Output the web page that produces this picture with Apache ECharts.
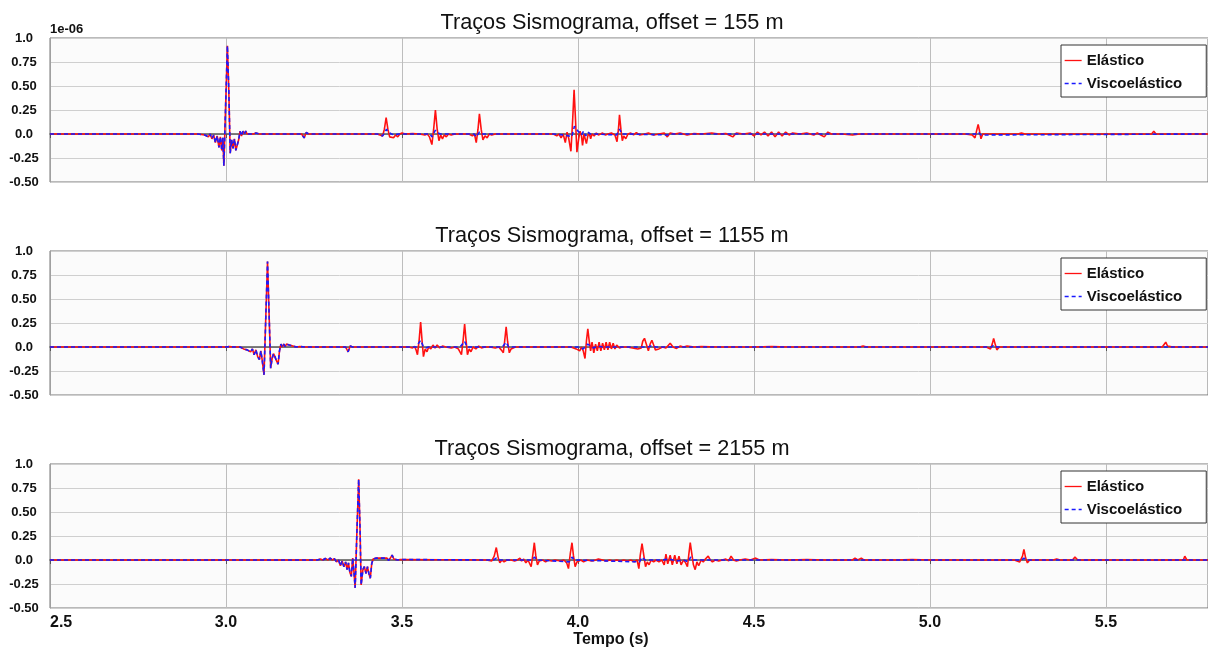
<!DOCTYPE html>
<html>
<head>
<meta charset="utf-8">
<title>Traços Sismograma</title>
<script src="https://cdn.jsdelivr.net/npm/echarts@6/dist/echarts.min.js"></script>
<style>
    html, body { margin: 0; padding: 0; background: #fff; }
    #chart { width: 1208px; height: 651px; }
</style>
</head>
<body>
<div id="chart"></div>
<script>
// valores em 1e-06, pares [tempo (s), amplitude]
var offsets = ['155', '1155', '2155'];
var legendas = ['Elástico', 'Viscoelástico'];
var yTicks = ['-0.50', '-0.25', '0.0', '0.25', '0.50', '0.75', '1.0'];

// onda direta (igual nos dois tracos)
var onda155 = [[2.5,0],[2.92,0],[2.925,0.01],[2.93,-0.005],[2.935,0.015],[2.94,-0.01],[2.945,0.01],[2.95,-0.03],[2.955,0.0],[2.96,-0.05],[2.965,-0.01],[2.97,-0.09],[2.975,-0.02],[2.98,-0.14],[2.984,-0.03],[2.988,-0.17],[2.991,-0.04],[2.994,-0.33],[2.999,0.3],[3.004,0.92],[3.008,0.45],[3.012,-0.2],[3.016,-0.06],[3.02,-0.15],[3.024,-0.05],[3.028,-0.17],[3.032,-0.19],[3.036,-0.06],[3.04,0.03],[3.044,-0.02],[3.048,0.03],[3.052,0.0],[3.056,0.03],[3.06,0.0],[3.064,0.02],[3.068,0.0],[3.072,0.015],[3.078,0.0],[3.085,0.01],[3.095,0.0],[3.215,0],[3.222,-0.04],[3.228,0.015],[3.235,0.0],[3.43,0]];

var elastico155 = onda155.concat([[3.445,-0.02],[3.45,0.05],[3.455,0.17],[3.46,0.05],[3.465,-0.03],[3.47,-0.02],[3.476,-0.04],[3.482,-0.01],[3.488,-0.03],[3.494,0.0],[3.5,0.01],[3.51,0.0],[3.53,0.005],[3.55,0],[3.565,-0.01],[3.572,0.0],[3.578,-0.03],[3.585,-0.11],[3.59,0.05],[3.595,0.25],[3.6,0.05],[3.605,-0.07],[3.61,-0.01],[3.615,-0.05],[3.62,-0.01],[3.626,-0.03],[3.632,0.0],[3.64,-0.01],[3.65,0.0],[3.69,0],[3.7,-0.02],[3.706,0.0],[3.711,-0.09],[3.716,0.05],[3.72,0.21],[3.725,0.05],[3.73,-0.06],[3.736,-0.02],[3.742,-0.04],[3.748,0.0],[3.755,-0.01],[3.765,0.0],[3.93,0],[3.94,-0.02],[3.946,0.0],[3.952,-0.04],[3.958,0.0],[3.964,-0.09],[3.969,0.02],[3.974,-0.05],[3.98,-0.18],[3.985,0.15],[3.989,0.46],[3.993,0.15],[3.997,-0.19],[4.002,-0.05],[4.006,0.03],[4.01,-0.02],[4.013,-0.12],[4.017,0.0],[4.02,0.02],[4.024,-0.1],[4.028,-0.02],[4.032,0.01],[4.036,-0.05],[4.04,0.0],[4.046,-0.02],[4.052,0.01],[4.058,-0.01],[4.064,0.0],[4.07,0.01],[4.078,-0.01],[4.085,0.0],[4.095,0.01],[4.105,-0.01],[4.111,-0.08],[4.115,0.05],[4.118,0.2],[4.122,0.05],[4.126,-0.07],[4.13,-0.02],[4.136,-0.05],[4.142,0.0],[4.15,0.01],[4.158,-0.01],[4.166,0.015],[4.175,-0.01],[4.19,0.0],[4.2,0.01],[4.215,-0.01],[4.23,0.0],[4.245,0.01],[4.254,-0.03],[4.262,0.01],[4.275,0.0],[4.29,0.01],[4.31,-0.01],[4.33,0.005],[4.35,0.0],[4.38,0.01],[4.4,0],[4.42,0.005],[4.44,-0.03],[4.45,0.01],[4.47,0.0],[4.49,0.01],[4.5,-0.02],[4.51,0.02],[4.52,-0.01],[4.53,0.02],[4.54,-0.02],[4.55,0.02],[4.56,-0.03],[4.57,0.02],[4.58,-0.02],[4.59,0.02],[4.6,-0.01],[4.61,0.01],[4.63,0.0],[4.65,0.01],[4.67,-0.01],[4.68,0.01],[4.69,-0.01],[4.7,-0.03],[4.71,0.02],[4.72,0.0],[4.75,0],[4.78,-0.01],[4.8,0],[5.1,0],[5.12,-0.01],[5.128,-0.04],[5.133,0.04],[5.137,0.1],[5.141,0.03],[5.145,-0.05],[5.15,0.0],[5.155,-0.01],[5.165,0.0],[5.25,0.0],[5.26,0.01],[5.27,0],[5.63,0],[5.636,0.03],[5.642,0],[5.79,0]]);

var visco155 = onda155.concat([[3.445,-0.02],[3.452,0.02],[3.456,0.05],[3.462,0.02],[3.47,0.0],[3.48,-0.01],[3.49,0],[3.58,0],[3.585,-0.03],[3.595,0.04],[3.602,0.01],[3.61,0],[3.705,0],[3.711,-0.03],[3.72,0.02],[3.727,0.0],[3.93,0],[3.96,-0.01],[3.975,-0.02],[3.982,-0.03],[3.99,0.08],[3.995,0.1],[4.0,0.03],[4.005,0.05],[4.01,-0.01],[4.016,0.03],[4.022,-0.02],[4.028,0.02],[4.035,0.0],[4.05,0.0],[4.11,-0.01],[4.118,0.05],[4.125,0.0],[4.14,0.0],[4.254,-0.01],[4.26,0],[5.13,0],[5.137,0.02],[5.145,-0.01],[5.15,0],[5.79,0]]);

var onda1155 = [[2.5,0],[3.0,0],[3.01,0.005],[3.015,0.01],[3.02,0.0],[3.025,0.01],[3.03,0.0],[3.035,0.01],[3.04,0.0],[3.045,0.005],[3.05,-0.02],[3.055,0.0],[3.06,-0.03],[3.065,-0.01],[3.07,-0.05],[3.075,-0.02],[3.08,-0.08],[3.085,-0.03],[3.09,-0.1],[3.095,-0.13],[3.099,-0.04],[3.103,-0.14],[3.108,-0.29],[3.113,0.3],[3.118,0.89],[3.122,0.4],[3.127,-0.22],[3.131,-0.12],[3.135,-0.07],[3.139,-0.1],[3.143,-0.14],[3.148,-0.18],[3.152,-0.04],[3.156,0.03],[3.16,0.0],[3.164,0.03],[3.168,0.005],[3.172,0.03],[3.176,0.01],[3.18,0.02],[3.185,0.0],[3.19,0.01],[3.2,0.0],[3.21,0.005],[3.225,0],[3.34,0],[3.347,-0.05],[3.353,0.01],[3.36,0],[3.52,0]];

var elastico1155 = onda1155.concat([[3.53,-0.01],[3.536,0.005],[3.54,-0.03],[3.544,-0.08],[3.549,0.08],[3.553,0.26],[3.557,0.07],[3.561,-0.1],[3.566,-0.02],[3.571,-0.05],[3.576,0.0],[3.582,-0.02],[3.588,0.02],[3.594,-0.01],[3.6,0.02],[3.607,-0.01],[3.615,0.01],[3.625,0.0],[3.64,-0.01],[3.65,0],[3.66,-0.02],[3.669,-0.08],[3.674,0.08],[3.678,0.24],[3.682,0.07],[3.686,-0.08],[3.691,-0.02],[3.696,-0.05],[3.702,0.0],[3.71,-0.02],[3.718,0.01],[3.726,-0.01],[3.735,0.0],[3.75,0.0],[3.765,-0.01],[3.775,0.0],[3.782,-0.03],[3.788,-0.06],[3.792,0.07],[3.796,0.21],[3.8,0.06],[3.805,-0.06],[3.81,-0.02],[3.815,-0.04],[3.822,0.0],[3.83,0.0],[3.85,0],[3.98,0],[3.995,-0.02],[4.0,-0.01],[4.005,-0.04],[4.01,0.0],[4.015,-0.04],[4.02,-0.12],[4.024,0.06],[4.028,0.19],[4.032,0.06],[4.036,-0.04],[4.04,0.05],[4.045,-0.06],[4.05,0.03],[4.055,-0.04],[4.06,0.05],[4.065,-0.04],[4.07,0.04],[4.075,-0.03],[4.08,0.05],[4.085,-0.03],[4.09,0.05],[4.095,-0.02],[4.1,0.04],[4.105,-0.02],[4.11,0.02],[4.118,-0.01],[4.125,0.0],[4.14,0.0],[4.155,-0.01],[4.17,-0.02],[4.18,-0.01],[4.184,0.06],[4.189,0.09],[4.195,0.02],[4.2,-0.04],[4.205,0.03],[4.21,0.07],[4.215,0.02],[4.22,-0.03],[4.23,-0.02],[4.24,0.0],[4.25,-0.01],[4.262,0.04],[4.27,0.0],[4.28,-0.015],[4.29,0.01],[4.3,0.0],[4.31,0.01],[4.33,0.0],[4.35,0.005],[4.4,0],[4.5,0],[4.55,0.005],[4.6,0],[4.8,0],[4.81,0.01],[4.82,0],[5.16,0],[5.172,-0.02],[5.177,0.03],[5.181,0.09],[5.186,0.02],[5.19,-0.03],[5.197,0.0],[5.205,0],[5.66,0],[5.665,0.015],[5.67,0.05],[5.675,0.01],[5.68,-0.01],[5.69,0],[5.79,0]]);

var visco1155 = onda1155.concat([[3.54,0],[3.545,-0.02],[3.553,0.07],[3.56,0.01],[3.567,-0.01],[3.575,0],[3.665,0],[3.67,-0.02],[3.678,0.06],[3.685,0.0],[3.695,0],[3.785,0],[3.79,-0.02],[3.796,0.05],[3.803,0.0],[3.81,0],[4.0,0],[4.015,-0.02],[4.02,-0.04],[4.028,0.03],[4.035,0.01],[4.045,-0.01],[4.055,0.01],[4.07,0],[4.185,0.0],[4.19,0.02],[4.2,0],[4.21,0.015],[4.22,0],[5.175,0],[5.181,0.02],[5.19,0],[5.79,0]]);

var onda2155 = [[2.5,0],[3.26,0],[3.268,0.01],[3.275,0.0],[3.282,0.015],[3.29,0.0],[3.296,0.02],[3.302,0.0],[3.308,0.015],[3.314,-0.02],[3.32,0.0],[3.325,-0.06],[3.33,-0.01],[3.335,-0.07],[3.34,-0.02],[3.344,-0.1],[3.348,-0.03],[3.352,-0.13],[3.356,-0.17],[3.36,0.02],[3.363,-0.1],[3.367,-0.29],[3.372,0.3],[3.377,0.84],[3.381,0.3],[3.384,-0.26],[3.389,-0.1],[3.393,-0.07],[3.398,-0.14],[3.402,-0.07],[3.406,-0.14],[3.41,-0.19],[3.414,-0.04],[3.418,0.01],[3.422,-0.01],[3.427,0.02],[3.432,0.0],[3.437,0.02],[3.442,0.0],[3.447,0.02],[3.452,0.0],[3.457,0.02],[3.462,-0.005],[3.467,0.02],[3.472,0.05],[3.477,0.01],[3.482,-0.01],[3.488,0.0],[3.495,0.005],[3.5,0],[3.74,0]];

var elastico2155 = onda2155.concat([[3.755,-0.01],[3.762,0.04],[3.768,0.13],[3.773,0.03],[3.778,-0.03],[3.784,0.0],[3.79,-0.02],[3.798,0.0],[3.81,0.0],[3.82,-0.01],[3.828,0.0],[3.835,0.02],[3.84,-0.01],[3.846,0.01],[3.852,-0.03],[3.858,0.0],[3.863,-0.02],[3.867,-0.07],[3.872,0.06],[3.876,0.18],[3.88,0.05],[3.885,-0.05],[3.89,-0.01],[3.895,-0.03],[3.9,0.0],[3.908,-0.02],[3.915,0.0],[3.925,-0.01],[3.935,0.0],[3.95,-0.01],[3.96,0.0],[3.968,-0.03],[3.973,-0.09],[3.978,0.06],[3.983,0.18],[3.987,0.05],[3.992,-0.07],[3.997,-0.02],[4.002,-0.03],[4.008,0.0],[4.016,-0.02],[4.025,0.0],[4.04,-0.01],[4.05,0.0],[4.058,0.01],[4.063,0.03],[4.07,0.0],[4.08,-0.01],[4.09,0.0],[4.1,-0.01],[4.11,0.0],[4.12,-0.01],[4.13,0.0],[4.14,-0.01],[4.15,0.0],[4.16,-0.02],[4.168,0.0],[4.173,-0.09],[4.177,0.05],[4.182,0.17],[4.187,0.05],[4.192,-0.07],[4.197,-0.02],[4.202,-0.05],[4.208,0.0],[4.215,-0.02],[4.222,0.0],[4.23,-0.02],[4.238,0.0],[4.245,-0.05],[4.25,0.06],[4.255,-0.04],[4.262,0.05],[4.268,-0.05],[4.275,0.05],[4.281,-0.04],[4.287,0.04],[4.293,-0.05],[4.3,0.0],[4.306,-0.03],[4.311,-0.07],[4.315,0.06],[4.319,0.18],[4.324,0.05],[4.328,-0.05],[4.333,-0.1],[4.338,-0.02],[4.343,-0.06],[4.35,0.0],[4.356,-0.02],[4.362,0.01],[4.37,0.04],[4.376,0.0],[4.382,-0.02],[4.39,0.0],[4.4,-0.01],[4.41,0.0],[4.42,0.01],[4.428,-0.01],[4.435,0.04],[4.442,0.0],[4.45,-0.01],[4.46,0.0],[4.475,0.01],[4.49,0.0],[4.505,0.02],[4.515,0.0],[4.55,0.005],[4.6,0],[4.65,0.005],[4.7,0],[4.78,0],[4.787,0.02],[4.795,0],[4.805,0.02],[4.812,0],[4.9,0],[4.95,0.005],[5.0,0],[5.24,0],[5.255,-0.02],[5.26,-0.03],[5.263,0.04],[5.267,0.11],[5.272,0.02],[5.277,-0.03],[5.283,0.0],[5.29,0],[5.35,0],[5.36,0.01],[5.37,0],[5.405,0],[5.412,0.03],[5.42,0],[5.72,0],[5.724,0.04],[5.73,0],[5.735,-0.01],[5.745,0],[5.79,0]]);

var visco2155 = onda2155.concat([[3.76,0],[3.764,-0.01],[3.768,0.02],[3.775,0.0],[3.785,0],[3.87,0],[3.876,0.03],[3.885,0.0],[3.975,-0.02],[3.983,0.03],[3.99,0.0],[4.175,-0.02],[4.182,0.03],[4.19,0],[4.24,0],[4.26,0.01],[4.28,-0.01],[4.3,0],[4.313,-0.02],[4.32,0.03],[4.328,0],[4.4,0],[5.26,0],[5.267,0.02],[5.275,0],[5.79,0]]);

var tracos = [[elastico155, visco155], [elastico1155, visco1155], [elastico2155, visco2155]];

var gridTops = [38, 251, 464];
var titleTops = [7, 220, 433];
var corVermelho = '#ff1111';
var corAzul = '#1a1aff';
var fonte = 'Arial, "Liberation Sans", sans-serif';

var myChart = echarts.init(document.getElementById('chart'));

var grids = [], xAxes = [], yAxes = [], titles = [], legends = [], series = [];
for (var i = 0; i < 3; i++) {
    titles.push({
        text: 'Traços Sismograma, offset = ' + offsets[i] + ' m',
        left: 607,
        top: titleTops[i],
        textAlign: 'center',
        textStyle: { fontFamily: fonte, fontSize: 21.7, fontWeight: 'normal', color: '#111' }
    });
    grids.push({
        left: 50, right: 0, top: gridTops[i], height: 144,
        show: true,
        backgroundColor: '#fbfbfb',
        borderColor: '#777',
        borderWidth: 1
    });
    xAxes.push({
        type: 'value',
        gridIndex: i,
        min: 2.5,
        max: 5.79,
        interval: 0.5,
        name: i == 2 ? 'Tempo (s)' : '',
        nameLocation: 'middle',
        nameGap: 24,
        nameTextStyle: {
            fontFamily: fonte, fontSize: 16, fontWeight: 'bold', color: '#111',
            padding: [0, 36, 0, 0]
        },
        axisLine: { lineStyle: { color: '#555', width: 1.5 } },
        axisTick: { show: true, length: 4, lineStyle: { color: '#555' } },
        axisLabel: {
            show: i == 2,
            showMaxLabel: false,
            alignMinLabel: 'left',
            margin: 7,
            fontFamily: fonte, fontSize: 16, fontWeight: 'bold', color: '#111',
            formatter: function (v) { return v.toFixed(1); }
        },
        splitLine: { lineStyle: { color: '#bdbdbd', width: 1 } }
    });
    yAxes.push({
        type: 'value',
        gridIndex: i,
        min: -0.5,
        max: 1.0,
        interval: 0.25,
        axisLine: { show: true, lineStyle: { color: '#a0a0a0' } },
        axisTick: { show: false },
        axisLabel: {
            margin: 26,
            align: 'center',
            fontFamily: fonte, fontSize: 13, fontWeight: 'bold', color: '#111',
            formatter: function (v) {
                return yTicks[Math.round((v + 0.5) / 0.25)];
            }
        },
        splitLine: { lineStyle: { color: '#cfcfcf', width: 1 } }
    });
    legends.push({
        data: legendas,
        orient: 'vertical',
        left: 1061,
        top: gridTops[i] + 7,
        padding: [8, 24, 6, 3],
        itemGap: 8,
        itemWidth: 17,
        itemHeight: 14,
        itemStyle: { opacity: 0 },
        lineStyle: { width: 1.3 },
        backgroundColor: '#fff',
        borderColor: '#333',
        borderWidth: 1,
        borderRadius: 0,
        textStyle: { fontFamily: fonte, fontSize: 15, fontWeight: 'bold', color: '#111' }
    });
    series.push({
        name: legendas[0],
        type: 'line',
        xAxisIndex: i,
        yAxisIndex: i,
        data: tracos[i][0],
        symbol: 'none',
        lineStyle: { color: corVermelho, width: 1.6 },
        itemStyle: { color: corVermelho }
    });
    series.push({
        name: legendas[1],
        type: 'line',
        xAxisIndex: i,
        yAxisIndex: i,
        data: tracos[i][1],
        symbol: 'none',
        lineStyle: { color: corAzul, width: 1.6, type: [4, 3] },
        itemStyle: { color: corAzul }
    });
}

var option = {
    animation: false,
    backgroundColor: '#fff',
    title: titles,
    grid: grids,
    xAxis: xAxes,
    yAxis: yAxes,
    legend: legends,
    graphic: [{
        type: 'text',
        left: 50,
        top: 23,
        style: { text: '1e-06', fontFamily: fonte, fontSize: 13, fontWeight: 'bold', fill: '#111' }
    }],
    series: series
};
myChart.setOption(option);
</script>
</body>
</html>
